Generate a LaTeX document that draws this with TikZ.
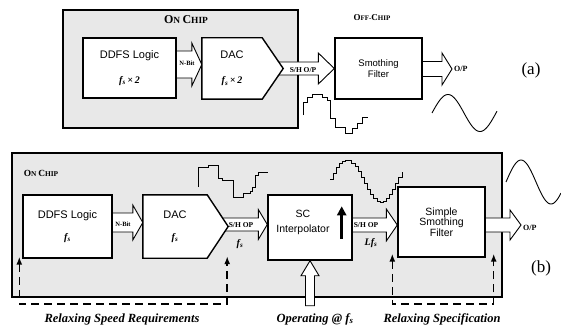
\documentclass[tikz,border=0pt]{standalone}
\usepackage{fontspec}
\setmainfont{Liberation Serif}
\setsansfont{Liberation Sans}
\usetikzlibrary{calc,arrows.meta}
\pgfdeclarelayer{bg}
\pgfdeclarelayer{arr}
\pgfdeclarelayer{mid}
\pgfsetlayers{bg,arr,mid,main}
% #2 start, #3 tip, #4 body half, #5 head half, #6 head length
\newcommand\blockarr[6][]{%
  \path[barrow,#1] let \p1=(#2), \p2=(#3) in
   (\x1,{\y2+#4pt}) -- ({\x2-#6pt},{\y2+#4pt}) -- ({\x2-#6pt},{\y2+#5pt}) -- (\x2,\y2)
   -- ({\x2-#6pt},{\y2-#5pt}) -- ({\x2-#6pt},{\y2-#4pt}) -- (\x1,{\y2-#4pt});}
\newcommand\fsym{\textbf{\textit{f}}\textsubscript{\textbf{\textit{s}}}}
\begin{document}
\begin{tikzpicture}[x=1pt,y=-1pt,
  chip/.style={draw,line width=1.3pt,fill=black!9},
  blk/.style={draw,line width=1.4pt,fill=white,inner sep=0pt,align=center},
  blktext/.style={inner sep=0pt,align=center},
  barrow/.style={draw,line width=0.9pt,fill=white,line join=miter},
  dashline/.style={line width=1.5pt,dash pattern=on 8pt off 5pt,{Latex[length=8pt,width=6pt]}-{Latex[length=8pt,width=6pt]}},
  sansbox/.style={font=\sffamily\fontsize{11}{13}\selectfont},
  serbi/.style={font=\rmfamily\bfseries\itshape\fontsize{10}{12}\selectfont},
  tinylab/.style={font=\bfseries\fontsize{6.5}{7}\selectfont,inner sep=0pt},
  shlab/.style={font=\bfseries\fontsize{7.5}{8}\selectfont,inner sep=0pt},
  oplab/.style={font=\bfseries\fontsize{8}{9}\selectfont,inner sep=0pt,anchor=west},
  caption/.style={font=\bfseries\itshape\fontsize{12.5}{14}\selectfont,inner sep=0pt},
  partlab/.style={font=\fontsize{17}{19}\selectfont,inner sep=0pt},
  wave/.style={line width=0.9pt,line join=miter}]
\useasboundingbox (0,0) rectangle (561,326);

% ---------------- (a) ----------------
\begin{pgfonlayer}{bg}
  \node[chip,minimum width=235pt,minimum height=118pt,inner sep=0pt] (chipA) at (180.5,69) {};
\end{pgfonlayer}
\node[inner sep=0pt,font=\bfseries] (onchipA) at (186,20)
  {\fontsize{12}{12}\selectfont O\fontsize{9.4}{10}\selectfont N \fontsize{12}{12}\selectfont C\fontsize{9.4}{10}\selectfont HIP};
\node[inner sep=0pt,font=\bfseries] (offchip) at (372,18)
  {\fontsize{9}{9}\selectfont O\fontsize{7}{8}\selectfont FF-\fontsize{9}{9}\selectfont C\fontsize{7}{8}\selectfont HIP};

\node[blk,sansbox,minimum width=93pt,minimum height=60pt] (ddfsA) at (129.5,68)
  {DDFS Logic\\[12pt]{\rmfamily\bfseries\itshape\fontsize{10}{12}\selectfont f\textsubscript{s}\,×\,2}};
\node[blktext,sansbox,minimum width=60pt,minimum height=61pt] (dacA) at (232,68.5)
  {DAC\\[12pt]{\rmfamily\bfseries\itshape\fontsize{10}{12}\selectfont f\textsubscript{s}\,×\,2}};
\begin{pgfonlayer}{mid}
  \draw[line width=1.4pt,fill=white,line join=miter] (dacA.north west) -- (dacA.north east)
    -- ($(dacA.east)+(21,0)$) -- (dacA.south east) -- (dacA.south west) -- cycle;
\end{pgfonlayer}
\node[blk,font=\sffamily\fontsize{9.5}{11}\selectfont,minimum width=87pt,minimum height=61pt] (filtA) at (378.5,68.5)
  {Smothing\\Filter};
\coordinate (outA) at (452,69);

\begin{pgfonlayer}{arr}
  \blockarr{$(ddfsA.east)+(0,-4)$}{$(dacA.west)+(0,-4)$}{13.5}{21.5}{10}
  \blockarr{dacA.east}{filtA.west}{6.5}{15.5}{16}
  \blockarr{filtA.east}{outA}{7.5}{16}{10}
\end{pgfonlayer}
\node[tinylab] (nbitA) at (187,63) {N-Bit};
\node[shlab] (shA) at (303,70) {S/H O/P};
\node[oplab] (opA) at (454,69) {O/P};
\node[partlab] (labA) at (531,70) {(a)};

\draw[wave] (303,115) -- (303,102) -- (307,102) -- (307,97) -- (312,97) -- (312,94) -- (322,94)
  -- (322,97) -- (327,97) -- (327,100) -- (330,100) -- (330,118) -- (335,118) -- (335,127)
  -- (345,127) -- (345,133) -- (352,133) -- (352,128) -- (357,128) -- (357,123) -- (362,123)
  -- (362,117) -- (368,117);
\draw[wave] plot[domain=432:497,samples=60,smooth] (\x,{113-18.5*sin((\x-432)*5.625)});

% ---------------- (b) ----------------
\begin{pgfonlayer}{bg}
  \node[chip,minimum width=490pt,minimum height=144pt,inner sep=0pt] (chipB) at (257,225) {};
\end{pgfonlayer}
\node[inner sep=0pt,font=\bfseries] (onchipB) at (41,173)
  {\fontsize{9.4}{10}\selectfont O\fontsize{7.4}{8}\selectfont N \fontsize{9.4}{10}\selectfont C\fontsize{7.4}{8}\selectfont HIP};

\node[blk,sansbox,minimum width=89pt,minimum height=63pt] (ddfsB) at (67.5,226.5)
  {DDFS Logic\\[9pt]{\rmfamily\bfseries\itshape\fontsize{10}{12}\selectfont f\textsubscript{s}}};
\node[blktext,sansbox,minimum width=64pt,minimum height=63pt] (dacB) at (175,226.5)
  {DAC\\[9pt]{\rmfamily\bfseries\itshape\fontsize{10}{12}\selectfont f\textsubscript{s}}};
\begin{pgfonlayer}{mid}
  \draw[line width=1.4pt,fill=white,line join=miter] (dacB.north west) -- (dacB.north east)
    -- ($(dacB.east)+(21,0)$) -- (dacB.south east) -- (dacB.south west) -- cycle;
\end{pgfonlayer}
\node[blk,minimum width=84pt,minimum height=65pt] (sc) at (310,227.5) {};
\node[blktext,font=\sffamily\fontsize{10.5}{15}\selectfont] (sctext) at ($(sc.center)+(-7,-5)$) {SC\\Interpolator};
\draw[line width=2.6pt,-{Triangle[length=9pt,width=9pt]}] ($(sc.south east)+(-11,-22)$) -- ($(sc.north east)+(-11,12)$);
\node[blk,font=\sffamily\fontsize{10.5}{10.5}\selectfont,minimum width=87pt,minimum height=70pt] (filtB) at (441.5,222)
  {Simple\\Smothing\\Filter};
\coordinate (outB) at (521,225);

\begin{pgfonlayer}{arr}
  \blockarr{$(ddfsB.east)+(0,-4)$}{$(dacB.west)+(0,-4)$}{9.5}{17.5}{10}
  \blockarr{dacB.east}{$(sc.west)+(0,-3)$}{6.5}{15}{9}
  \blockarr{$(sc.east)+(0,-2.5)$}{$(filtB.west)+(0,3)$}{7}{16}{11}
  \blockarr{$(filtB.east)+(0,3)$}{outB}{7}{15}{11}
  % Operating arrow (vertical hollow)
  \path[barrow] let \p1=(sc.south) in
    ({\x1-4.5pt},{\y1-45pt}) -- ({\x1-4.5pt},{\y1-15pt}) -- ({\x1-9pt},{\y1-15pt}) -- (\x1,\y1)
    -- ({\x1+9pt},{\y1-15pt}) -- ({\x1+4.5pt},{\y1-15pt}) -- ({\x1+4.5pt},{\y1-45pt}) -- cycle;
\end{pgfonlayer}
\node[tinylab] (nbitB) at (123,224) {N-Bit};
\node[shlab] (shB1) at (241,225) {S/H OP};
\node[serbi] (fsB) at (240,244) {f\textsubscript{s}};
\node[shlab] (shB2) at (366,225) {S/H OP};
\node[serbi] (lfsB) at (371,243) {Lf\textsubscript{s}};
\node[oplab] (opB) at (523,228) {O/P};
\node[partlab] (labB) at (541,268) {(b)};

\draw[wave] (198,187) -- (198,167) -- (208,167) -- (208,165) -- (218,165) -- (218,178) -- (222,178)
  -- (222,180) -- (233,180) -- (233,197) -- (243,197) -- (243,193) -- (250,193) -- (250,191)
  -- (252,191) -- (252,187) -- (255,187) -- (255,175) -- (258,175) -- (258,172) -- (268,172);
\draw[wave] plot[domain=330:402,samples=24,const plot] (\x,{181-21*sin((\x-329)*5.294)});
\draw[wave] plot[domain=506:561,samples=50,smooth] (\x,{182-22*sin((\x-506)*6)});

% dashed relaxation arrows
\coordinate (tL1) at ($(ddfsB.south west)+(-3,-2)$);
\coordinate (tL2) at ($(dacB.south east)+(20,-2)$);
\coordinate (bL1) at (tL1 |- 0,304);
\coordinate (bL2) at (tL2 |- 0,304);
\draw[dashline] (tL1) -- (bL1) -- (bL2) -- (tL2);
\coordinate (tR1) at ($(filtB.south west)+(-5,-4)$);
\coordinate (tR2) at ($(filtB.south east)+(8,-4)$);
\coordinate (bR1) at (tR1 |- 0,304);
\coordinate (bR2) at (tR2 |- 0,304);
\draw[dashline] (tR1) -- (bR1) -- (bR2) -- (tR2);

\node[caption] (capL) at (122,319) {Relaxing Speed Requirements};
\node[caption] (capM) at (315,319) {Operating @ f\textsubscript{s}};
\node[caption] (capR) at (442,319) {Relaxing Specification};
\end{tikzpicture}
\end{document}
